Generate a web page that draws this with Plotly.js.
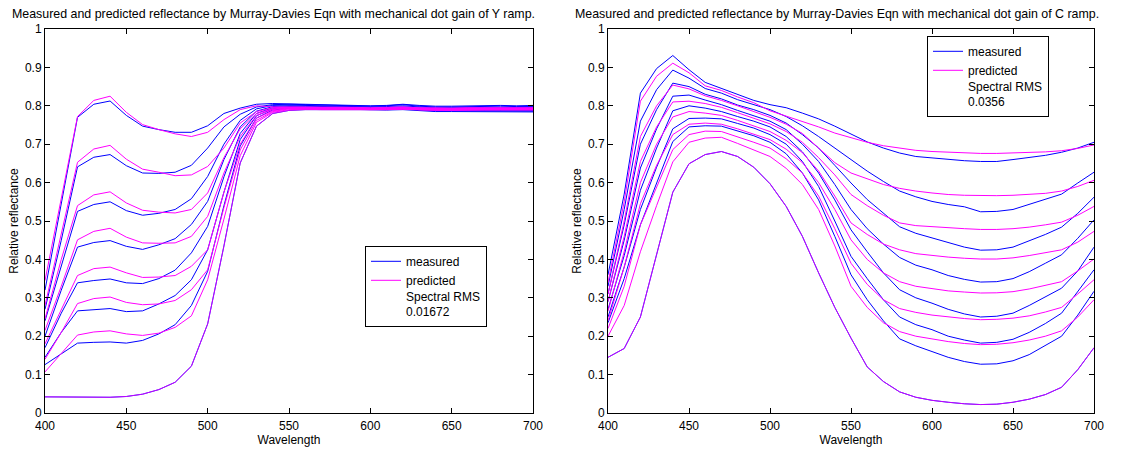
<!DOCTYPE html>
<html>
<head>
<meta charset="utf-8">
<script src="https://cdn.plot.ly/plotly-3.0.1.min.js"></script>
<style>html,body{margin:0;padding:0;background:#fff;}#chart{width:1129px;height:449px;}</style>
</head>
<body>
<div id="chart"></div>
<script>
// Wavelength samples (nm)
const wavelengths = [400,410,420,430,440,450,460,470,480,490,500,510,520,530,540,550,560,570,580,590,600,610,620,630,640,650,660,670,680,690,700];

// ---- Left panel: Y ramp ----
const yTitle = "Measured and predicted reflectance by Murray-Davies Eqn with mechanical dot gain of Y ramp.";
const yRMS = "0.01672";
const yMeasured = [
  [0.32,0.55,0.770,0.804,0.8125,0.775,0.747,0.738,0.731,0.731,0.748,0.780,0.794,0.804,0.806,0.805,0.804,0.803,0.802,0.801,0.800,0.801,0.804,0.801,0.799,0.799,0.800,0.800,0.801,0.800,0.801],
  [0.27,0.45,0.641,0.666,0.673,0.644,0.625,0.624,0.627,0.645,0.690,0.745,0.778,0.797,0.803,0.804,0.803,0.802,0.801,0.800,0.799,0.800,0.803,0.799,0.797,0.797,0.798,0.798,0.799,0.798,0.798],
  [0.24,0.38,0.525,0.543,0.550,0.527,0.515,0.520,0.530,0.558,0.616,0.700,0.762,0.792,0.801,0.802,0.801,0.800,0.799,0.798,0.797,0.798,0.800,0.797,0.795,0.795,0.796,0.796,0.796,0.795,0.795],
  [0.20,0.32,0.432,0.444,0.449,0.434,0.426,0.438,0.454,0.491,0.551,0.660,0.745,0.786,0.798,0.800,0.799,0.798,0.797,0.796,0.795,0.795,0.797,0.794,0.792,0.792,0.792,0.792,0.792,0.791,0.791],
  [0.17,0.26,0.339,0.345,0.349,0.339,0.337,0.350,0.372,0.417,0.486,0.615,0.728,0.780,0.795,0.798,0.797,0.796,0.795,0.794,0.793,0.793,0.794,0.791,0.789,0.789,0.789,0.789,0.789,0.788,0.788],
  [0.145,0.21,0.266,0.269,0.272,0.264,0.266,0.284,0.306,0.347,0.425,0.575,0.712,0.774,0.792,0.796,0.795,0.794,0.793,0.792,0.791,0.791,0.792,0.789,0.787,0.787,0.787,0.787,0.786,0.786,0.786],
  [0.126,0.155,0.182,0.184,0.185,0.182,0.189,0.206,0.230,0.280,0.369,0.540,0.695,0.768,0.789,0.794,0.793,0.792,0.791,0.790,0.789,0.789,0.790,0.787,0.785,0.785,0.785,0.785,0.784,0.784,0.784]
];
const yPredicted = [
  [0.345,0.56,0.772,0.814,0.825,0.783,0.751,0.738,0.727,0.720,0.731,0.764,0.790,0.800,0.797,0.797,0.797,0.796,0.796,0.796,0.795,0.796,0.797,0.795,0.794,0.794,0.795,0.795,0.795,0.795,0.795],
  [0.28,0.47,0.653,0.6875,0.697,0.661,0.635,0.627,0.618,0.620,0.642,0.690,0.755,0.785,0.795,0.796,0.796,0.795,0.795,0.795,0.794,0.795,0.796,0.794,0.793,0.793,0.794,0.794,0.794,0.794,0.794],
  [0.245,0.40,0.540,0.568,0.576,0.547,0.528,0.523,0.521,0.530,0.573,0.665,0.740,0.780,0.792,0.795,0.795,0.794,0.794,0.794,0.793,0.794,0.795,0.793,0.792,0.792,0.793,0.793,0.793,0.793,0.793],
  [0.215,0.33,0.451,0.473,0.481,0.458,0.443,0.442,0.443,0.460,0.512,0.625,0.720,0.775,0.790,0.794,0.794,0.793,0.793,0.793,0.792,0.793,0.794,0.792,0.791,0.791,0.792,0.792,0.792,0.792,0.792],
  [0.18,0.27,0.358,0.376,0.380,0.365,0.353,0.354,0.358,0.382,0.425,0.575,0.700,0.768,0.787,0.793,0.793,0.792,0.792,0.792,0.791,0.792,0.793,0.791,0.790,0.790,0.791,0.791,0.791,0.791,0.791],
  [0.14,0.21,0.285,0.298,0.302,0.288,0.282,0.284,0.293,0.321,0.373,0.535,0.685,0.762,0.785,0.792,0.792,0.791,0.791,0.791,0.790,0.791,0.792,0.790,0.789,0.789,0.790,0.790,0.790,0.790,0.790],
  [0.107,0.155,0.203,0.211,0.214,0.206,0.202,0.208,0.223,0.253,0.347,0.505,0.670,0.757,0.783,0.790,0.791,0.790,0.790,0.790,0.789,0.790,0.791,0.789,0.788,0.788,0.789,0.789,0.789,0.789,0.789]
];
const ySolid = [0.042,0.042,0.041,0.041,0.041,0.043,0.049,0.061,0.080,0.122,0.232,0.435,0.651,0.747,0.780,0.788,0.790,0.790,0.790,0.790,0.789,0.790,0.791,0.790,0.789,0.789,0.789,0.790,0.790,0.790,0.790];

// ---- Right panel: C ramp ----
const cTitle = "Measured and predicted reflectance by Murray-Davies Eqn with mechanical dot gain of C ramp.";
const cRMS = "0.0356";
const cMeasured = [
  [0.36,0.57,0.833,0.897,0.931,0.894,0.861,0.846,0.829,0.814,0.803,0.795,0.781,0.766,0.747,0.727,0.706,0.690,0.677,0.668,0.664,0.660,0.657,0.655,0.655,0.660,0.666,0.671,0.679,0.690,0.705],
  [0.33,0.53,0.760,0.842,0.893,0.872,0.845,0.833,0.816,0.803,0.790,0.772,0.748,0.720,0.690,0.660,0.630,0.603,0.578,0.563,0.551,0.543,0.537,0.524,0.525,0.530,0.543,0.556,0.570,0.599,0.627],
  [0.31,0.49,0.700,0.790,0.859,0.850,0.830,0.818,0.802,0.790,0.775,0.755,0.725,0.690,0.645,0.599,0.556,0.520,0.485,0.468,0.456,0.443,0.432,0.424,0.425,0.432,0.448,0.465,0.484,0.520,0.562],
  [0.29,0.45,0.638,0.740,0.825,0.828,0.815,0.803,0.788,0.775,0.760,0.738,0.700,0.655,0.595,0.530,0.480,0.440,0.405,0.385,0.373,0.358,0.348,0.341,0.342,0.350,0.368,0.390,0.412,0.455,0.503],
  [0.27,0.41,0.580,0.690,0.787,0.800,0.794,0.785,0.772,0.760,0.745,0.720,0.680,0.625,0.555,0.477,0.420,0.365,0.321,0.300,0.286,0.270,0.258,0.250,0.252,0.260,0.280,0.302,0.325,0.370,0.432],
  [0.25,0.38,0.530,0.640,0.740,0.767,0.768,0.766,0.754,0.742,0.725,0.700,0.655,0.590,0.500,0.408,0.350,0.295,0.250,0.230,0.217,0.200,0.190,0.182,0.184,0.192,0.210,0.233,0.260,0.315,0.373],
  [0.235,0.35,0.490,0.600,0.707,0.745,0.748,0.747,0.735,0.722,0.705,0.675,0.625,0.555,0.460,0.360,0.295,0.240,0.193,0.175,0.160,0.145,0.134,0.127,0.128,0.136,0.152,0.175,0.200,0.255,0.317]
];
const cPredicted = [
  [0.34,0.55,0.812,0.877,0.911,0.886,0.852,0.840,0.823,0.808,0.787,0.773,0.760,0.745,0.729,0.716,0.705,0.696,0.689,0.684,0.681,0.679,0.677,0.676,0.676,0.677,0.678,0.680,0.683,0.689,0.698],
  [0.31,0.50,0.720,0.800,0.854,0.844,0.826,0.814,0.800,0.786,0.770,0.752,0.728,0.690,0.652,0.625,0.610,0.595,0.585,0.578,0.573,0.569,0.567,0.566,0.566,0.567,0.569,0.572,0.578,0.590,0.606],
  [0.29,0.46,0.655,0.745,0.810,0.812,0.806,0.796,0.782,0.768,0.753,0.733,0.705,0.665,0.620,0.569,0.540,0.515,0.495,0.488,0.485,0.482,0.480,0.478,0.478,0.480,0.484,0.490,0.497,0.515,0.538],
  [0.265,0.42,0.600,0.700,0.771,0.785,0.781,0.775,0.762,0.748,0.733,0.710,0.678,0.630,0.565,0.495,0.465,0.440,0.425,0.415,0.410,0.406,0.403,0.401,0.401,0.404,0.410,0.417,0.425,0.445,0.473],
  [0.24,0.38,0.545,0.645,0.725,0.752,0.755,0.752,0.740,0.727,0.712,0.687,0.652,0.600,0.530,0.451,0.400,0.365,0.342,0.330,0.324,0.318,0.315,0.3125,0.313,0.316,0.323,0.332,0.342,0.370,0.401],
  [0.22,0.33,0.490,0.590,0.686,0.725,0.734,0.733,0.720,0.705,0.690,0.662,0.625,0.565,0.480,0.390,0.335,0.295,0.272,0.262,0.255,0.250,0.246,0.243,0.244,0.247,0.253,0.263,0.275,0.310,0.347],
  [0.20,0.28,0.420,0.540,0.654,0.705,0.716,0.718,0.702,0.685,0.668,0.637,0.595,0.530,0.435,0.330,0.275,0.235,0.212,0.200,0.192,0.186,0.181,0.178,0.179,0.183,0.190,0.200,0.214,0.250,0.295]
];
const cSolid = [0.145,0.168,0.250,0.410,0.575,0.649,0.673,0.681,0.668,0.640,0.597,0.538,0.460,0.365,0.275,0.195,0.120,0.082,0.055,0.041,0.033,0.028,0.024,0.022,0.023,0.028,0.036,0.048,0.067,0.113,0.170];

const xTicks = [400,450,500,550,600,650,700];
const yTicks = [0,0.1,0.2,0.3,0.4,0.5,0.6,0.7,0.8,0.9,1];
const yTickText = ["0","0.1","0.2","0.3","0.4","0.5","0.6","0.7","0.8","0.9","1"];

const BLUE = "#0000ff", MAGENTA = "#ff00ff";
const FONT = "Liberation Sans, Arial, Helvetica, sans-serif";

function panelTraces(measured, predicted, solid, rms, xa, ya, legendId) {
  const tr = [];
  const all = measured.concat([solid]);
  all.forEach((vals, i) => {
    tr.push({x: wavelengths, y: vals, xaxis: xa, yaxis: ya, mode: "lines", type: "scatter",
      line: {color: BLUE, width: 1}, name: "measured", legend: legendId,
      showlegend: i === 0, legendrank: 1, hoverinfo: "skip"});
  });
  const allP = predicted.concat([solid]);
  allP.forEach((vals, i) => {
    tr.push({x: wavelengths, y: vals, xaxis: xa, yaxis: ya, mode: "lines", type: "scatter",
      line: {color: MAGENTA, width: 1}, opacity: (i === allP.length - 1) ? 0.75 : 1,
      name: "predicted<br>Spectral RMS<br>" + rms, legend: legendId,
      showlegend: i === 0, legendrank: 2, hoverinfo: "skip"});
  });
  return tr;
}

const traces = panelTraces(yMeasured, yPredicted, ySolid, yRMS, "x", "y", "legend")
  .concat(panelTraces(cMeasured, cPredicted, cSolid, cRMS, "x2", "y2", "legend2"));

const W = 1129, H = 449;
const axisCommon = {
  showline: true, linecolor: "#000", linewidth: 1, mirror: "ticks",
  ticks: "inside", ticklen: 5, tickwidth: 1, tickcolor: "#000",
  showgrid: false, zeroline: false, fixedrange: true,
  tickfont: {family: FONT, size: 12, color: "#000"}
};
function xAxis(domain, anchor) {
  return Object.assign({}, axisCommon, {
    domain: domain, anchor: anchor, range: [400, 700], tickmode: "array", tickvals: xTicks,
    ticklabelstandoff: 2,
    title: {text: "Wavelength", font: {family: FONT, size: 12, color: "#000"}, standoff: 3}
  });
}
function yAxis(domain, anchor) {
  return Object.assign({}, axisCommon, {
    domain: domain, anchor: anchor, range: [0, 1], tickmode: "array", tickvals: yTicks, ticktext: yTickText,
    title: {text: "Relative reflectance", font: {family: FONT, size: 12, color: "#000"}, standoff: 3}
  });
}
const yDom = [36 / H, 420 / H];
const legendCommon = {
  bgcolor: "#fff", bordercolor: "#000", borderwidth: 1,
  font: {family: FONT, size: 12, color: "#000"}, valign: "top",
  xanchor: "left", yanchor: "top", traceorder: "normal", itemclick: false, itemdoubleclick: false
};

const layout = {
  width: W, height: H,
  margin: {l: 0, r: 0, t: 0, b: 0, autoexpand: false},
  paper_bgcolor: "#fff", plot_bgcolor: "#fff",
  font: {family: FONT, color: "#000"},
  xaxis: xAxis([45 / W, 533 / W], "y"),
  yaxis: yAxis(yDom, "x"),
  xaxis2: xAxis([608 / W, 1094 / W], "y2"),
  yaxis2: yAxis(yDom, "x2"),
  legend: Object.assign({}, legendCommon, {x: 365 / W, y: 1 - 246 / H}),
  legend2: Object.assign({}, legendCommon, {x: 927 / W, y: 1 - 36 / H}),
  annotations: [
    {text: yTitle, xref: "paper", yref: "paper", x: 273 / W, y: 1 - 14 / H, xanchor: "center", yanchor: "middle",
     showarrow: false, font: {family: FONT, size: 12.4, color: "#000"}},
    {text: cTitle, xref: "paper", yref: "paper", x: 837 / W, y: 1 - 14 / H, xanchor: "center", yanchor: "middle",
     showarrow: false, font: {family: FONT, size: 12.4, color: "#000"}}
  ],
  showlegend: true
};

Plotly.newPlot("chart", traces, layout, {displayModeBar: false, staticPlot: true});
</script>
</body>
</html>
